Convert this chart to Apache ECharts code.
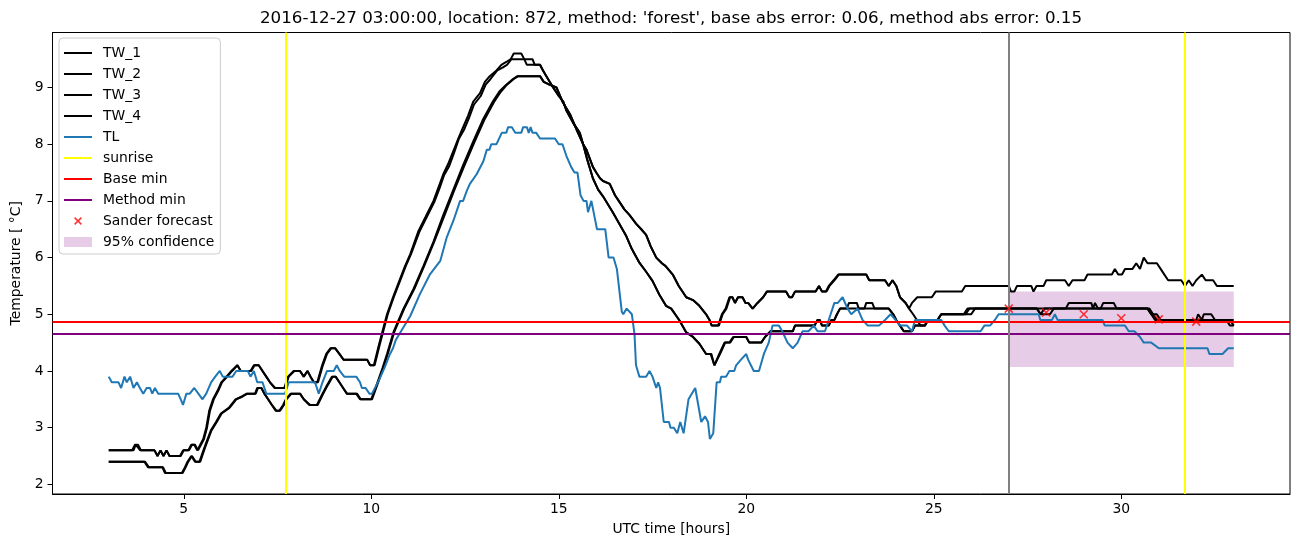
<!DOCTYPE html>
<html>
<head>
<meta charset="utf-8">
<script src="https://cdn.jsdelivr.net/npm/echarts@6/dist/echarts.min.js"></script>
<style>
  html, body { margin: 0; padding: 0; background: #fff; }
  #chart { width: 1302px; height: 547px; }
</style>
</head>
<body>
<div id="chart"></div>
<script>
// values, [UTC hour, temperature]
const tw1 = [[3.0,2.6],[3.62,2.6],[3.7,2.7],[3.78,2.7],[3.86,2.6],[4.22,2.6],[4.3,2.5],[4.38,2.6],[4.46,2.5],[4.54,2.6],[4.62,2.5],[4.9,2.5],[4.98,2.6],[5.12,2.6],[5.2,2.7],[5.28,2.7],[5.36,2.6],[5.44,2.7],[5.52,2.8],[5.6,3.0],[5.68,3.3],[5.78,3.5],[5.9,3.65],[6.0,3.8],[6.14,3.9],[6.27,4.0],[6.43,4.1],[6.52,4.0],[6.78,4.0],[6.87,4.1],[7.0,4.1],[7.1,4.0],[7.2,3.9],[7.3,3.8],[7.42,3.7],[7.68,3.7],[7.78,3.9],[7.93,4.0],[8.1,4.0],[8.2,3.9],[8.3,4.0],[8.38,3.9],[8.47,3.8],[8.56,3.8],[8.69,4.1],[8.8,4.3],[8.91,4.4],[9.04,4.4],[9.15,4.3],[9.26,4.2],[9.89,4.2],[9.97,4.1],[10.07,4.1],[10.2,4.45],[10.3,4.7],[10.42,5.0],[10.58,5.3],[10.73,5.56],[10.9,5.85],[11.04,6.06],[11.26,6.47],[11.45,6.72],[11.66,7.0],[11.8,7.25],[11.92,7.47],[12.05,7.65],[12.19,7.88],[12.32,8.1],[12.45,8.3],[12.58,8.5],[12.72,8.75],[12.9,8.9],[13.03,9.1],[13.16,9.2],[13.34,9.3],[13.47,9.4],[13.6,9.45],[13.72,9.5],[13.8,9.6],[14.0,9.6],[14.08,9.5],[14.15,9.4],[14.5,9.4],[14.58,9.3],[14.67,9.2],[14.85,9.0],[15.0,8.85],[15.12,8.75],[15.2,8.6],[15.38,8.38],[15.56,8.2],[15.65,8.0],[15.74,7.9],[15.82,7.76],[15.91,7.6],[16.0,7.5],[16.1,7.4],[16.18,7.35],[16.36,7.3],[16.5,7.1],[16.6,7.0],[16.75,6.85],[16.89,6.75],[17.06,6.6],[17.2,6.5],[17.33,6.4],[17.45,6.2],[17.6,6.0],[17.75,5.9],[17.85,5.85],[18.04,5.7],[18.2,5.5],[18.4,5.3],[18.58,5.25],[18.75,5.15],[18.93,5.0],[19.02,4.9],[19.08,4.8],[19.25,4.8],[19.35,5.0],[19.45,5.1],[19.55,5.3],[19.63,5.3],[19.7,5.2],[19.78,5.3],[19.9,5.3],[19.98,5.2],[20.05,5.2],[20.17,5.1],[20.3,5.2],[20.45,5.3],[20.55,5.4],[21.06,5.4],[21.15,5.3],[21.22,5.3],[21.3,5.4],[21.85,5.4],[21.94,5.5],[22.02,5.4],[22.12,5.4],[22.2,5.5],[22.33,5.6],[22.45,5.7],[23.2,5.7],[23.28,5.6],[23.7,5.6],[23.8,5.5],[23.9,5.6],[24.0,5.5],[24.1,5.3],[24.25,5.2],[24.34,5.1],[24.42,5.2],[24.56,5.3],[24.95,5.3],[25.05,5.4],[25.75,5.4],[25.84,5.5],[27.0,5.5],[27.06,5.4],[27.15,5.4],[27.22,5.5],[27.6,5.5],[27.66,5.4],[27.74,5.5],[27.93,5.5],[28.0,5.6],[28.5,5.6],[28.6,5.5],[28.7,5.6],[29.02,5.6],[29.1,5.7],[29.75,5.7],[29.83,5.8],[29.92,5.7],[30.02,5.7],[30.1,5.8],[30.3,5.8],[30.4,5.9],[30.5,5.8],[30.6,6.0],[30.7,5.9],[30.95,5.9],[31.05,5.8],[31.15,5.7],[31.25,5.6],[31.6,5.6],[31.7,5.5],[31.8,5.6],[31.9,5.5],[32.0,5.6],[32.15,5.7],[32.25,5.6],[32.45,5.6],[32.55,5.5],[33.0,5.5]];

const tw2 = [[3.0,2.6],[3.66,2.6],[3.72,2.7],[3.76,2.7],[3.84,2.6],[4.22,2.6],[4.3,2.5],[4.38,2.6],[4.46,2.5],[4.54,2.6],[4.62,2.5],[4.92,2.5],[5.0,2.6],[5.14,2.6],[5.22,2.7],[5.3,2.7],[5.38,2.6],[5.46,2.7],[5.54,2.8],[5.62,3.0],[5.7,3.3],[5.8,3.5],[5.92,3.65],[6.02,3.8],[6.16,3.9],[6.29,4.0],[6.43,4.1],[6.52,4.0],[6.8,4.0],[6.89,4.1],[7.0,4.1],[7.1,4.0],[7.2,3.9],[7.3,3.8],[7.44,3.7],[7.7,3.7],[7.8,3.9],[7.95,4.0],[8.1,4.0],[8.2,3.9],[8.3,4.0],[8.38,3.9],[8.47,3.8],[8.58,3.8],[8.71,4.1],[8.82,4.3],[8.93,4.4],[9.04,4.4],[9.15,4.3],[9.26,4.2],[9.89,4.2],[9.97,4.1],[10.09,4.1],[10.22,4.45],[10.32,4.7],[10.44,5.0],[10.6,5.3],[10.75,5.56],[10.92,5.85],[11.06,6.06],[11.28,6.45],[11.47,6.7],[11.68,6.98],[11.82,7.22],[11.94,7.45],[12.07,7.6],[12.21,7.85],[12.34,8.1],[12.47,8.25],[12.6,8.45],[12.74,8.7],[12.92,8.85],[13.05,9.05],[13.18,9.15],[13.36,9.3],[13.5,9.35],[13.62,9.4],[13.74,9.5],[14.3,9.5],[14.36,9.4],[14.5,9.4],[14.58,9.3],[14.67,9.2],[14.85,9.0],[15.0,8.85],[15.12,8.75],[15.2,8.6],[15.38,8.38],[15.56,8.2],[15.65,8.0],[15.74,7.9],[15.82,7.76],[15.91,7.6],[16.0,7.5],[16.1,7.4],[16.18,7.35],[16.36,7.3],[16.5,7.1],[16.6,7.0],[16.75,6.85],[16.89,6.75],[17.06,6.6],[17.2,6.5],[17.33,6.4],[17.45,6.2],[17.6,6.0],[17.75,5.9],[17.85,5.85],[18.04,5.7],[18.2,5.5],[18.4,5.3],[18.58,5.25],[18.75,5.15],[18.93,5.0],[19.02,4.9],[19.08,4.8],[19.27,4.8],[19.37,5.0],[19.47,5.1],[19.57,5.3],[19.63,5.3],[19.7,5.2],[19.78,5.3],[19.9,5.3],[19.98,5.2],[20.05,5.2],[20.17,5.1],[20.3,5.2],[20.45,5.3],[20.55,5.4],[21.06,5.4],[21.15,5.3],[21.22,5.3],[21.3,5.4],[21.85,5.4],[21.94,5.5],[22.02,5.4],[22.14,5.4],[22.22,5.5],[22.35,5.6],[22.47,5.7],[23.2,5.7],[23.28,5.6],[23.7,5.6],[23.8,5.5],[23.9,5.6],[24.0,5.5],[24.1,5.3],[24.25,5.2],[24.34,5.1],[24.45,5.0],[24.55,4.9],[24.65,4.8],[24.76,4.8],[24.85,4.9],[25.1,4.9],[25.2,5.0],[25.85,5.0],[25.95,5.1],[27.75,5.1],[27.85,5.0],[28.1,5.0],[28.2,5.1],[30.7,5.1],[30.8,5.0],[30.9,4.9],[33.0,4.9]];

const tw3 = [[3.0,2.4],[3.95,2.4],[4.05,2.3],[4.43,2.3],[4.5,2.2],[4.95,2.2],[5.03,2.3],[5.1,2.4],[5.2,2.5],[5.3,2.4],[5.42,2.4],[5.55,2.65],[5.72,2.95],[5.86,3.1],[5.99,3.25],[6.2,3.35],[6.38,3.5],[6.55,3.55],[6.68,3.6],[6.9,3.6],[6.96,3.7],[7.07,3.7],[7.15,3.6],[7.25,3.5],[7.35,3.4],[7.45,3.3],[7.55,3.3],[7.65,3.4],[7.72,3.5],[7.85,3.6],[8.1,3.6],[8.2,3.5],[8.35,3.4],[8.55,3.4],[8.7,3.6],[8.82,3.75],[8.95,3.9],[9.05,3.9],[9.15,3.8],[9.25,3.7],[9.35,3.6],[9.6,3.6],[9.7,3.5],[10.0,3.5],[10.15,3.77],[10.3,4.05],[10.42,4.3],[10.6,4.7],[10.86,5.1],[11.13,5.45],[11.39,5.85],[11.66,6.28],[11.92,6.75],[12.19,7.2],[12.45,7.63],[12.72,8.05],[12.99,8.45],[13.25,8.76],[13.43,8.94],[13.6,9.05],[13.78,9.15],[13.9,9.2],[14.5,9.2],[14.6,9.1],[14.75,9.05],[14.94,9.0],[15.1,8.75],[15.3,8.53],[15.48,8.25],[15.65,8.0],[15.75,7.75],[15.91,7.4],[16.05,7.2],[16.18,7.08],[16.44,6.8],[16.8,6.38],[16.95,6.15],[17.15,5.91],[17.33,5.75],[17.5,5.59],[17.68,5.35],[17.86,5.15],[18.0,5.1],[18.22,4.89],[18.4,4.68],[18.58,4.6],[18.75,4.48],[18.93,4.3],[19.05,4.3],[19.15,4.1],[19.28,4.3],[19.42,4.5],[19.55,4.5],[19.65,4.6],[20.0,4.6],[20.08,4.5],[20.4,4.5],[20.5,4.6],[20.65,4.7],[21.24,4.7],[21.3,4.8],[21.82,4.8],[21.9,4.9],[21.96,4.9],[22.02,4.8],[22.2,4.8],[22.27,4.9],[22.35,4.9],[22.42,5.0],[22.5,5.1],[23.8,5.1],[23.92,5.0],[24.0,4.9],[24.1,4.8],[24.2,4.7],[24.42,4.7],[24.5,4.8],[24.76,4.8],[24.85,4.9],[25.1,4.9],[25.2,5.0],[26.0,5.0],[26.1,5.1],[27.75,5.1],[27.85,5.0],[27.95,5.1],[28.52,5.1],[28.6,5.2],[29.2,5.2],[29.25,5.1],[29.3,5.2],[29.38,5.1],[29.45,5.1],[29.52,5.2],[29.8,5.2],[29.88,5.1],[30.7,5.1],[30.8,5.0],[30.95,5.0],[31.05,4.9],[32.0,4.9],[32.05,5.0],[32.1,5.0],[32.15,4.9],[32.2,5.0],[32.4,5.0],[32.5,4.9],[32.8,4.9],[32.9,4.8],[33.0,4.8]];

const tw4 = [[3.0,2.4],[3.97,2.4],[4.07,2.3],[4.45,2.3],[4.52,2.2],[4.97,2.2],[5.05,2.3],[5.12,2.4],[5.22,2.5],[5.32,2.4],[5.44,2.4],[5.57,2.65],[5.74,2.95],[5.88,3.1],[6.01,3.25],[6.22,3.35],[6.4,3.5],[6.57,3.55],[6.7,3.6],[6.92,3.6],[6.98,3.7],[7.07,3.7],[7.15,3.6],[7.25,3.5],[7.35,3.4],[7.47,3.3],[7.57,3.3],[7.67,3.4],[7.74,3.5],[7.87,3.6],[8.1,3.6],[8.2,3.5],[8.37,3.4],[8.57,3.4],[8.72,3.6],[8.84,3.75],[8.97,3.9],[9.05,3.9],[9.15,3.8],[9.25,3.7],[9.35,3.6],[9.62,3.6],[9.72,3.5],[10.02,3.5],[10.17,3.77],[10.32,4.05],[10.44,4.3],[10.62,4.7],[10.88,5.1],[11.15,5.45],[11.41,5.85],[11.68,6.28],[11.94,6.72],[12.21,7.18],[12.47,7.6],[12.74,8.02],[13.01,8.42],[13.27,8.74],[13.45,8.92],[13.62,9.05],[13.8,9.15],[13.92,9.2],[14.5,9.2],[14.6,9.1],[14.75,9.05],[14.94,9.0],[15.1,8.75],[15.3,8.53],[15.48,8.25],[15.65,8.0],[15.75,7.75],[15.91,7.4],[16.05,7.2],[16.18,7.08],[16.44,6.8],[16.8,6.38],[16.95,6.15],[17.15,5.91],[17.33,5.75],[17.5,5.59],[17.68,5.35],[17.86,5.15],[18.0,5.1],[18.22,4.89],[18.4,4.68],[18.58,4.6],[18.75,4.48],[18.93,4.3],[19.07,4.3],[19.15,4.1],[19.3,4.3],[19.44,4.5],[19.57,4.5],[19.67,4.6],[20.0,4.6],[20.08,4.5],[20.4,4.5],[20.5,4.6],[20.65,4.7],[21.24,4.7],[21.3,4.8],[21.82,4.8],[21.9,4.9],[21.96,4.9],[22.02,4.8],[22.2,4.8],[22.27,4.9],[22.35,4.9],[22.42,5.0],[22.5,5.1],[22.68,5.1],[22.74,5.2],[22.95,5.2],[23.0,5.1],[23.15,5.1],[23.2,5.2],[23.36,5.2],[23.42,5.1],[23.8,5.1],[23.92,5.0],[24.0,4.9],[24.1,4.8],[24.2,4.7],[24.42,4.7],[24.5,4.8],[24.76,4.8],[24.85,4.9],[25.1,4.9],[25.2,5.0],[25.8,5.0],[25.9,5.1],[30.75,5.1],[30.85,5.0],[30.95,4.9],[32.9,4.9],[33.0,4.8]];

const tl = [[3.0,3.9],[3.08,3.8],[3.26,3.8],[3.33,3.7],[3.42,3.9],[3.48,3.8],[3.57,3.9],[3.66,3.7],[3.75,3.8],[3.83,3.7],[3.92,3.6],[4.01,3.7],[4.1,3.7],[4.16,3.6],[4.23,3.7],[4.32,3.6],[4.85,3.6],[4.92,3.5],[4.98,3.4],[5.07,3.6],[5.16,3.6],[5.28,3.7],[5.39,3.6],[5.5,3.5],[5.6,3.6],[5.73,3.8],[5.84,3.9],[5.96,4.0],[6.04,3.9],[6.3,3.9],[6.4,4.0],[6.71,4.0],[6.78,3.9],[6.87,4.0],[6.96,3.8],[7.1,3.8],[7.2,3.6],[7.7,3.6],[7.8,3.8],[8.5,3.8],[8.6,3.6],[8.7,3.8],[8.82,4.0],[9.0,4.0],[9.08,4.1],[9.16,4.0],[9.28,3.9],[9.6,3.9],[9.7,3.8],[9.75,3.7],[9.85,3.7],[9.95,3.6],[10.02,3.6],[10.2,3.83],[10.35,4.05],[10.5,4.3],[10.58,4.4],[10.65,4.54],[11.04,4.97],[11.3,5.36],[11.57,5.71],[11.84,5.94],[12.01,6.35],[12.19,6.65],[12.37,7.0],[12.45,7.0],[12.55,7.18],[12.63,7.3],[12.81,7.47],[12.99,7.7],[13.08,7.9],[13.15,7.9],[13.2,8.0],[13.34,8.0],[13.48,8.2],[13.6,8.2],[13.65,8.3],[13.75,8.3],[13.84,8.2],[14.0,8.2],[14.05,8.3],[14.15,8.3],[14.2,8.2],[14.25,8.3],[14.3,8.2],[14.4,8.2],[14.5,8.1],[14.9,8.1],[15.0,8.0],[15.1,8.0],[15.2,7.8],[15.33,7.6],[15.42,7.5],[15.5,7.5],[15.58,7.1],[15.66,7.0],[15.74,7.0],[15.78,6.8],[15.87,7.0],[15.96,6.7],[16.02,6.5],[16.24,6.5],[16.33,6.0],[16.46,6.0],[16.55,5.8],[16.68,5.05],[16.72,5.0],[16.81,5.1],[16.95,5.0],[17.02,4.65],[17.06,4.1],[17.15,3.9],[17.33,3.9],[17.42,4.0],[17.5,3.9],[17.6,3.7],[17.65,3.8],[17.7,3.7],[17.8,3.1],[17.94,3.1],[17.98,3.0],[18.07,3.0],[18.16,2.9],[18.24,3.1],[18.33,2.9],[18.46,3.5],[18.64,3.7],[18.8,3.1],[18.9,3.2],[18.98,3.1],[19.03,2.8],[19.12,2.9],[19.21,3.8],[19.3,3.8],[19.33,3.9],[19.46,3.9],[19.55,4.0],[19.68,4.0],[19.73,4.1],[19.86,4.2],[20.0,4.3],[20.05,4.2],[20.2,4.0],[20.34,4.0],[20.47,4.3],[20.6,4.5],[20.7,4.8],[20.87,4.8],[20.96,4.7],[21.1,4.5],[21.24,4.4],[21.37,4.5],[21.5,4.7],[21.66,4.7],[21.8,4.8],[21.9,4.7],[22.1,4.7],[22.25,5.0],[22.35,5.2],[22.44,5.2],[22.57,5.3],[22.7,5.1],[22.8,5.0],[22.97,5.1],[23.1,4.9],[23.24,4.8],[23.54,4.8],[23.7,4.9],[23.85,5.0],[23.98,4.9],[24.11,4.8],[24.29,4.8],[24.42,4.7],[24.5,4.9],[25.2,4.9],[25.29,4.8],[25.4,4.7],[26.25,4.7],[26.35,4.8],[26.5,4.8],[26.63,4.9],[26.73,5.0],[27.8,5.0],[27.84,4.9],[28.15,4.9],[28.23,5.0],[28.3,4.9],[29.5,4.9],[29.56,4.8],[30.1,4.8],[30.2,4.7],[30.35,4.7],[30.5,4.6],[30.6,4.5],[30.8,4.5],[31.0,4.4],[32.3,4.4],[32.35,4.3],[32.7,4.3],[32.85,4.4],[33.0,4.4]];

const sunrise = [7.71, 31.68];
const forecastStart = 27.0;
const baseMin = 4.86;
const methodMin = 4.65;
const sanderForecast = [[27,5.1],[28,5.03],[29,5.0],[30,4.93],[31,4.91],[32,4.87]];
const confX = [27.0, 33.0];
const confY = [4.07, 5.40];

const xTicks = [5, 10, 15, 20, 25, 30];
const yTicks = [2, 3, 4, 5, 6, 7, 8, 9];

const FONT = 'DejaVu Sans';
const LINE_ICON = 'path://M0,0H28V2H0Z';
const chart = echarts.init(document.getElementById('chart'));

function twSeries(name, data) {
  return {
    name: name, type: 'line', data: data, z: 2,
    symbol: 'none', showSymbol: false, silent: true,
    color: '#000000',
    lineStyle: { color: '#000000', width: 2 }
  };
}

function ruleSeries(name, color, lines, z) {
  return {
    name: name, type: 'line', data: [], z: z,
    symbol: 'none', color: color,
    lineStyle: { color: color, width: 2 },
    markLine: {
      silent: true, symbol: 'none', animation: false,
      label: { show: false },
      lineStyle: { color: color, width: 2, type: 'solid' },
      data: lines
    }
  };
}

function lineEntry(name, color) {
  return { name: name, icon: LINE_ICON, itemStyle: { color: color, borderWidth: 0 } };
}

const option = {
  animation: false,
  backgroundColor: '#ffffff',
  title: {
    text: "2016-12-27 03:00:00, location: 872, method: 'forest', base abs error: 0.06, method abs error: 0.15",
    left: 671, top: 10, padding: 0, textAlign: 'center',
    textStyle: { fontFamily: FONT, fontSize: 16.7, fontWeight: 'normal', color: '#000' }
  },
  grid: {
    left: 52.5, right: 12, top: 32.5, bottom: 53,
    show: true, borderColor: '#000', borderWidth: 1,
    containLabel: false, outerBoundsMode: 'none'
  },
  legend: {
    orient: 'vertical', left: 59, top: 38,
    padding: [8, 6, 5, 5],
    itemWidth: 28, itemHeight: 10, itemGap: 7,
    selectedMode: false,
    backgroundColor: 'rgba(255,255,255,0.8)',
    borderColor: '#cccccc', borderWidth: 1, borderRadius: 4,
    textStyle: { fontFamily: FONT, fontSize: 13.9, color: '#000', padding: [0, 0, 0, 6] },
    data: [
      lineEntry('TW_1', '#000000'), lineEntry('TW_2', '#000000'),
      lineEntry('TW_3', '#000000'), lineEntry('TW_4', '#000000'),
      lineEntry('TL', '#1f77b4'), lineEntry('sunrise', '#ffff00'),
      lineEntry('Base min', '#ff0000'), lineEntry('Method min', '#800080'),
      { name: 'Sander forecast', icon: 'path://M0,0L0,0M10,10L10,10M1.6,1.6L8.4,8.4M8.4,1.6L1.6,8.4',
        itemStyle: { color: 'rgba(0,0,0,0)', borderColor: '#ff0000', borderWidth: 1.5 } },
      { name: '95% confidence', icon: 'rect', itemStyle: { color: 'rgba(128,0,128,0.2)', borderWidth: 0 } }
    ]
  },
  xAxis: {
    type: 'value', min: 1.5, max: 34.5,
    name: 'UTC time [hours]', nameLocation: 'middle', nameGap: 28,
    nameTextStyle: { fontFamily: FONT, fontSize: 13.9, color: '#000' },
    axisLine: { show: true, lineStyle: { color: '#000', width: 1 } },
    axisTick: { show: true, customValues: xTicks, length: 5, lineStyle: { color: '#000', width: 1 } },
    axisLabel: { customValues: xTicks, margin: 8, fontFamily: FONT, fontSize: 13.9, color: '#000' },
    splitLine: { show: false }
  },
  yAxis: {
    type: 'value', min: 1.83, max: 9.97,
    name: 'Temperature [ °C]', nameLocation: 'middle', nameGap: 26, nameRotate: 90,
    nameTextStyle: { fontFamily: FONT, fontSize: 13.9, color: '#000' },
    axisLine: { show: true, lineStyle: { color: '#000', width: 1 } },
    axisTick: { show: true, customValues: yTicks, length: 5, lineStyle: { color: '#000', width: 1 } },
    axisLabel: { customValues: yTicks, margin: 9, fontFamily: FONT, fontSize: 13.9, color: '#000' },
    splitLine: { show: false }
  },
  series: [
    twSeries('TW_1', tw1),
    twSeries('TW_2', tw2),
    twSeries('TW_3', tw3),
    twSeries('TW_4', tw4),
    {
      name: 'TL', type: 'line', data: tl, z: 3,
      symbol: 'none', showSymbol: false, silent: true,
      color: '#1f77b4',
      lineStyle: { color: '#1f77b4', width: 2 }
    },
    ruleSeries('sunrise', '#ffff00', sunrise.map(h => ({ xAxis: h })), 4),
    ruleSeries('Base min', '#ff0000', [{ yAxis: baseMin }], 4),
    ruleSeries('Method min', '#800080', [{ yAxis: methodMin }], 4),
    {
      name: 'Sander forecast', type: 'scatter', data: sanderForecast, z: 6,
      symbol: 'path://M0,0L10,10M10,0L0,10', symbolSize: 8, silent: true,
      color: '#ff0000',
      itemStyle: { color: 'rgba(0,0,0,0)', borderColor: '#ff0000', borderWidth: 1.5 }
    },
    {
      name: '95% confidence', type: 'line', data: [], z: 1,
      symbol: 'none', color: 'rgba(128,0,128,0.2)',
      markArea: {
        silent: true,
        itemStyle: { color: 'rgba(128,0,128,0.2)' },
        data: [[{ coord: [confX[0], confY[0]] }, { coord: [confX[1], confY[1]] }]]
      },
      markLine: {
        silent: true, symbol: 'none', animation: false,
        label: { show: false },
        lineStyle: { color: '#808080', width: 2, type: 'solid' },
        data: [{ xAxis: forecastStart }]
      }
    }
  ]
};

chart.setOption(option);
</script>
</body>
</html>
